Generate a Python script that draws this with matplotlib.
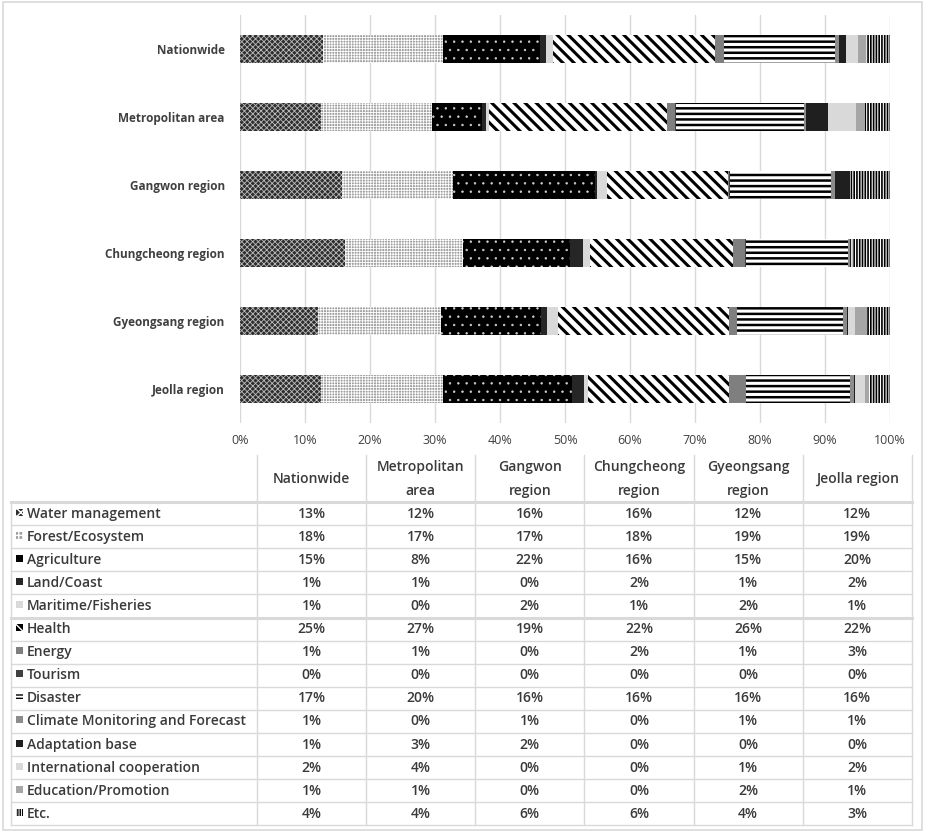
import matplotlib
matplotlib.use("Agg")
import matplotlib.pyplot as plt
from matplotlib.patches import Rectangle
import numpy as np

plt.rcParams['font.family'] = ['Open Sans', 'DejaVu Sans']

regions = ['Nationwide', 'Metropolitan area', 'Gangwon region',
           'Chungcheong region', 'Gyeongsang region', 'Jeolla region']
header_labels = ['Nationwide', 'Metropolitan\narea', 'Gangwon\nregion',
                 'Chungcheong\nregion', 'Gyeongsang\nregion', 'Jeolla region']
sectors = ['Water management', 'Forest/Ecosystem', 'Agriculture', 'Land/Coast',
           'Maritime/Fisheries', 'Health', 'Energy', 'Tourism', 'Disaster',
           'Climate Monitoring and Forecast', 'Adaptation base',
           'International cooperation', 'Education/Promotion', 'Etc.']

# share (%) of each sector, one list per region (order as in sectors)
nationwide = [12.8, 18.4, 14.9, 1.0, 1.1, 24.8, 1.4, 0.1, 17.1, 0.6, 1.1, 1.8, 1.2, 3.7]
metropolitan = [12.4, 17.1, 7.8, 0.6, 0.4, 27.4, 1.2, 0.1, 19.7, 0.4, 3.3, 4.4, 1.4, 3.8]
gangwon = [15.7, 17.1, 21.8, 0.3, 1.6, 18.6, 0.2, 0.1, 15.5, 0.6, 2.3, 0.1, 0.1, 6.0]
chungcheong = [16.2, 18.1, 16.4, 2.0, 1.1, 22.0, 1.9, 0.1, 15.8, 0.3, 0.1, 0.1, 0.1, 5.8]
gyeongsang = [12.0, 18.9, 15.4, 1.0, 1.6, 26.4, 1.1, 0.1, 16.3, 0.6, 0.2, 1.0, 1.8, 3.6]
jeolla = [12.4, 18.8, 19.9, 1.8, 0.6, 21.7, 2.6, 0.1, 16.0, 0.6, 0.1, 1.6, 0.6, 3.2]

data = np.array([nationwide, metropolitan, gangwon, chungcheong, gyeongsang, jeolla]) / 100.0

# (facecolor, hatch colour, hatch, hatch linewidth)
styles = [
    ('#2e2e2e', '#bdbdbd', 'xxxxxx', 0.6),
    ('#a0a0a0', '#ffffff', '++++++', 0.6),
    ('#000000', '#d0d0d0', '..', 0.5),
    ('#262626', '#262626', '', 1.0),
    ('#d9d9d9', '#d9d9d9', '', 1.0),
    ('#ffffff', '#000000', '\\\\\\', 2.2),
    ('#7f7f7f', '#7f7f7f', '', 1.0),
    ('#404040', '#404040', '', 1.0),
    ('#ffffff', '#000000', '---', 1.8),
    ('#8c8c8c', '#8c8c8c', '', 1.0),
    ('#1f1f1f', '#1f1f1f', '', 1.0),
    ('#d9d9d9', '#d9d9d9', '', 1.0),
    ('#a6a6a6', '#a6a6a6', '', 1.0),
    ('#ffffff', '#000000', '||||||', 1.2),
]
# small legend keys drawn in the table
key_styles = {0: ('#2e2e2e', '#ffffff', 'xxxx'), 1: ('#a0a0a0', '#ffffff', '++++'),
              2: ('#000000', '#ffffff', '.'), 5: ('#000000', '#ffffff', '\\\\\\\\'),
              8: ('#ffffff', '#000000', '-----'), 13: ('#ffffff', '#000000', '|||||||')}

fig = plt.figure(figsize=(9.27, 8.39), dpi=100)

# ---- table layer (pixel coordinates) ----
tab = fig.add_axes([0, 0, 1, 1])
tab.set_xlim(0, 927)
tab.set_ylim(839, 0)
tab.axis('off')

grid_c = '#d9d9d9'
txt_c = '#3a3a3a'
tab.add_patch(Rectangle((3, 2), 919, 828, fill=False, ec=grid_c, lw=1.2))

col_x = np.linspace(257, 912, 7)
row_h = 23.1
top = 502
bottom = top + row_h * len(sectors)

# header
for j, lab in enumerate(header_labels):
    cx = (col_x[j] + col_x[j + 1]) / 2
    tab.text(cx, 479, lab, ha='center', va='center', fontsize=10,
             color=txt_c, linespacing=1.9, fontweight='semibold')
for x in col_x:
    tab.plot([x, x], [455, bottom], color=grid_c, lw=1)
tab.plot([11, 11], [top, bottom], color=grid_c, lw=1)

# rows
plt.rcParams['hatch.linewidth'] = 1.0
for i, sec in enumerate(sectors):
    y0 = top + i * row_h
    lw = 2.2 if i in (0, 5) else 1
    tab.plot([11, col_x[-1]], [y0, y0], color=grid_c, lw=lw)
    cy = y0 + row_h / 2
    fc, hc, h = key_styles.get(i, styles[i][:3])
    tab.add_patch(Rectangle((16, cy - 5), 7, 7, facecolor=fc, edgecolor=hc,
                            hatch=h, lw=0))
    tab.text(27, cy, sec, ha='left', va='center', fontsize=10, color=txt_c,
             fontweight='semibold')
    for j in range(len(regions)):
        cx = (col_x[j] + col_x[j + 1]) / 2
        tab.text(cx, cy, f"{round(data[j, i] * 100)}%", ha='center',
                 va='center', fontsize=10, color=txt_c, fontweight='semibold')
tab.plot([11, col_x[-1]], [bottom, bottom], color=grid_c, lw=1)

# ---- stacked bar chart ----
ax = fig.add_axes([240 / 927, 1 - 423 / 839, 650 / 927, 408 / 839])
ypos = np.arange(len(regions))
left = np.zeros(len(regions))
for i, sec in enumerate(sectors):
    fc, hc, h, hlw = styles[i]
    plt.rcParams['hatch.linewidth'] = hlw
    ax.barh(ypos, data[:, i], left=left, height=0.41, color=fc,
            edgecolor=hc, hatch=h, lw=0, zorder=3, label=sec)
    left += data[:, i]

ax.set_xlim(0, 1)
ax.set_ylim(len(regions) - 0.5, -0.5)
ax.set_yticks(ypos)
ax.set_yticklabels(regions, fontsize=8.5, fontweight='bold', color='#404040')
ax.set_xticks(np.arange(0, 1.01, 0.1))
ax.set_xticklabels([f"{int(t)}%" for t in np.arange(0, 101, 10)],
                   fontsize=9, color='#404040')
ax.tick_params(length=0, pad=8)
ax.tick_params(axis='y', pad=11)
ax.grid(axis='x', color=grid_c, lw=1, zorder=0)
for s in ax.spines.values():
    s.set_visible(False)
ax.patch.set_alpha(0)

fig.savefig('out.png', dpi=100)
